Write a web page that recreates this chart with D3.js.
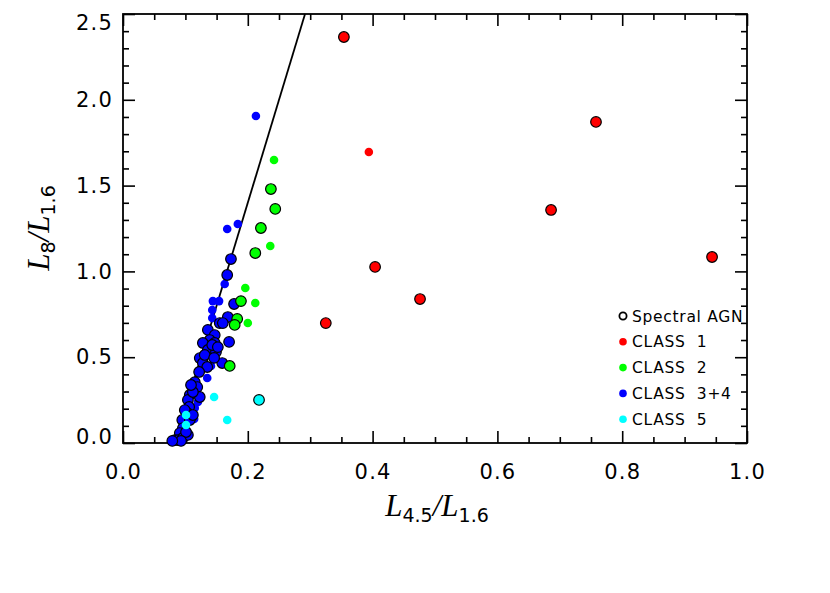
<!DOCTYPE html>
<html><head><meta charset="utf-8">
<script src="https://cdn.jsdelivr.net/npm/d3@7"></script>
<style>body{margin:0;background:#fff}svg{display:block}</style>
</head><body>
<svg id="c" width="830" height="593"></svg>
<script>
// ---- data ----
const xTicks = [0.0, 0.2, 0.4, 0.6, 0.8, 1.0];
const yTicks = [0.0, 0.5, 1.0, 1.5, 2.0, 2.5];

const class1X   = [0.354, 0.394, 0.758, 0.686, 0.404, 0.476, 0.325, 0.944];
const class1Y   = [2.366, 1.696, 1.871, 1.358, 1.026, 0.839, 0.699, 1.084];
const class1AGN = [1, 0, 1, 1, 1, 1, 1, 1];

const class2X   = [0.242, 0.237, 0.244, 0.221, 0.236, 0.212, 0.196, 0.189, 0.212, 0.183, 0.179, 0.200, 0.171];
const class2Y   = [1.649, 1.480, 1.364, 1.253, 1.148, 1.107, 0.903, 0.827, 0.816, 0.723, 0.688, 0.699, 0.449];
const class2AGN = [0, 1, 1, 1, 0, 1, 0, 1, 0, 1, 1, 0, 1];

const class34X   = [0.213, 0.167, 0.184, 0.163, 0.144, 0.154, 0.143, 0.143, 0.141, 0.135, 0.115, 0.120, 0.114,
                    0.173, 0.167, 0.178, 0.168, 0.155, 0.160, 0.136, 0.147, 0.139, 0.128, 0.147, 0.136, 0.149, 0.170,
                    0.123, 0.128, 0.135, 0.159, 0.115, 0.119, 0.123, 0.107, 0.104, 0.106, 0.103, 0.099, 0.095, 0.096,
                    0.091, 0.083, 0.088, 0.096, 0.104,
                    0.143, 0.131, 0.152, 0.112, 0.109, 0.099, 0.107, 0.101, 0.093, 0.079, 0.112, 0.122, 0.146];
const class34Y   = [1.906, 1.247, 1.276, 0.927, 0.827, 0.827, 0.775, 0.728, 0.449, 0.379, 0.204, 0.239, 0.140,
                    1.072, 0.979, 0.810, 0.734, 0.699, 0.699, 0.659, 0.629, 0.600, 0.583, 0.583, 0.542, 0.530, 0.589,
                    0.495, 0.466, 0.443, 0.466, 0.355, 0.326, 0.268, 0.280, 0.251, 0.210, 0.175, 0.122, 0.134, 0.087,
                    0.058, 0.017, 0.017, 0.029, 0.047,
                    0.571, 0.513, 0.559, 0.297, 0.338, 0.192, 0.134, 0.064, 0.012, 0.012, 0.163, 0.414, 0.496];
const class34AGN = [0, 0, 0, 0, 0, 0, 0, 0, 0, 0, 0, 0, 0,
                    1, 1, 1, 1, 1, 1, 1, 1, 1, 1, 1, 1, 1, 1,
                    1, 1, 1, 1, 1, 1, 1, 1, 1, 1, 1, 1, 1, 1,
                    1, 1, 1, 1, 1,
                    1, 1, 1, 1, 1, 1, 1, 1, 1, 1, 1, 1, 1];

const class5X   = [0.218, 0.146, 0.167, 0.101, 0.101];
const class5Y   = [0.251, 0.268, 0.134, 0.163, 0.105];
const class5AGN = [1, 0, 0, 0, 0];

const lineX = [0.0833, 0.2917];
const lineY = [0.0, 2.5];

const legendLabels = ["Spectral AGN", "CLASS  1", "CLASS  2", "CLASS  3+4", "CLASS  5"];
const legendColors = [null, "#ff0000", "#00ff00", "#0000ff", "#00ffff"];

// ---- layout ----
const svg = d3.select("#c");
const L = 123, R = 747, T = 14, B = 443;
const x = d3.scaleLinear().domain([0, 1]).range([L, R]);
const y = d3.scaleLinear().domain([0, 2.5]).range([B, T]);

const xMinor = d3.range(0, 1.0001, 0.05).filter(v => Math.abs(v*5 - Math.round(v*5)) > 1e-6);
const yMinor = d3.range(0, 2.5001, 0.1).filter(v => Math.abs(v*2 - Math.round(v*2)) > 1e-6);

function styleAxis(g){
  g.select(".domain").remove();
  g.selectAll("line").attr("stroke", "#000").attr("stroke-width", 1.6);
}
// bottom
svg.append("g").attr("transform", `translate(0,${B})`)
  .call(d3.axisBottom(x).tickValues(xMinor).tickSize(-6).tickFormat(""))
  .call(styleAxis);
const bx = svg.append("g").attr("transform", `translate(0,${B})`)
  .call(d3.axisBottom(x).tickValues(xTicks).tickSize(-12).tickPadding(21).tickFormat(d3.format(".1f")))
  .call(styleAxis);
// top
svg.append("g").attr("transform", `translate(0,${T})`)
  .call(d3.axisTop(x).tickValues(xMinor).tickSize(-6).tickFormat("")).call(styleAxis);
svg.append("g").attr("transform", `translate(0,${T})`)
  .call(d3.axisTop(x).tickValues(xTicks).tickSize(-12).tickFormat("")).call(styleAxis);
// left
svg.append("g").attr("transform", `translate(${L},0)`)
  .call(d3.axisLeft(y).tickValues(yMinor).tickSize(-6).tickFormat("")).call(styleAxis);
const ly = svg.append("g").attr("transform", `translate(${L},0)`)
  .call(d3.axisLeft(y).tickValues(yTicks).tickSize(-12).tickPadding(10).tickFormat(d3.format(".1f")))
  .call(styleAxis);
// right
svg.append("g").attr("transform", `translate(${R},0)`)
  .call(d3.axisRight(y).tickValues(yMinor).tickSize(-6).tickFormat("")).call(styleAxis);
svg.append("g").attr("transform", `translate(${R},0)`)
  .call(d3.axisRight(y).tickValues(yTicks).tickSize(-12).tickFormat("")).call(styleAxis);

[bx, ly].forEach(g => g.selectAll("text")
  .attr("fill", "#000").style("font-family", "'DejaVu Sans', sans-serif")
  .style("font-size", "21px").style("letter-spacing", "1.2px"));
// push end labels of y axis inward
ly.selectAll(".tick text").attr("dy", d => d === 0 ? "0em" : (d === 2.5 ? "0.75em" : "0.32em"));

// frame
svg.append("rect").attr("x", L).attr("y", T).attr("width", R - L).attr("height", B - T)
  .attr("fill", "none").attr("stroke", "#000").attr("stroke-width", 1.8);

// line
svg.append("path").datum(d3.zip(lineX, lineY))
  .attr("d", d3.line().x(d => x(d[0])).y(d => y(d[1])))
  .attr("stroke", "#000").attr("stroke-width", 1.8).attr("fill", "none");

// points
function drawClass(xs, ys, agn, color){
  const pts = d3.zip(xs, ys, agn);
  svg.append("g").selectAll("circle").data(pts).join("circle")
    .attr("cx", d => x(d[0])).attr("cy", d => y(d[1]))
    .attr("r", d => d[2] ? 5.3 : 4.3)
    .attr("fill", color)
    .attr("stroke", d => d[2] ? "#000" : "none")
    .attr("stroke-width", 1.2);
}
drawClass(class34X, class34Y, class34AGN, legendColors[3]);
drawClass(class2X, class2Y, class2AGN, legendColors[2]);
drawClass(class1X, class1Y, class1AGN, legendColors[1]);
drawClass(class5X, class5Y, class5AGN, legendColors[4]);

// legend
const lg = svg.append("g");
legendLabels.forEach((t, i) => {
  const cy = 316 + i * 25.8;
  if (legendColors[i] === null) {
    lg.append("circle").attr("cx", 623).attr("cy", cy).attr("r", 3.6)
      .attr("fill", "none").attr("stroke", "#000").attr("stroke-width", 1.8);
  } else {
    lg.append("circle").attr("cx", 623).attr("cy", cy).attr("r", 3.8).attr("fill", legendColors[i]);
  }
  lg.append("text").attr("x", 632).attr("y", cy).attr("dy", "0.36em")
    .style("font-family", "'DejaVu Sans', sans-serif").style("font-size", "15.5px")
    .style("white-space", "pre").style("letter-spacing", "0.7px").text(t);
});

// axis titles
function title(g, parts){
  const t = g.append("text").style("font-family", "'Liberation Serif', serif").attr("text-anchor", "middle");
  parts.forEach(p => {
    const s = t.append("tspan").text(p.t);
    if (p.sub) s.style("font-size", "19px").style("font-family", "'DejaVu Sans', sans-serif").attr("baseline-shift", "-30%");
    else s.style("font-size", "31px").style("font-style", "italic");
  });
  return t;
}
title(svg.append("g").attr("transform", "translate(437,516)"),
  [{t:"L"},{t:"4.5",sub:1},{t:"/"},{t:"L"},{t:"1.6",sub:1}]);
title(svg.append("g").attr("transform", "translate(49,228) rotate(-90)"),
  [{t:"L"},{t:"8",sub:1},{t:"/"},{t:"L"},{t:"1.6",sub:1}]);
</script>
</body></html>
